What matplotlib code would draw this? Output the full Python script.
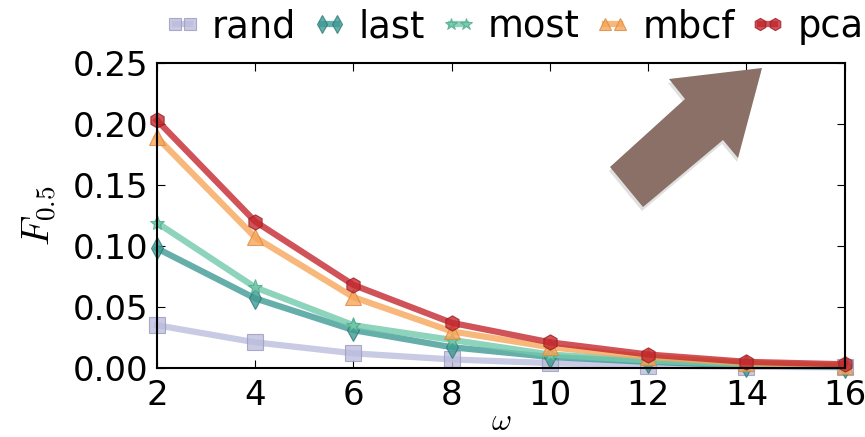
import matplotlib
matplotlib.use('Agg')
import matplotlib.pyplot as plt
from matplotlib.patches import Polygon

plt.rcParams['mathtext.fontset'] = 'cm'

omega = [2, 4, 6, 8, 10, 12, 14, 16]
rand = [0.035, 0.021, 0.012, 0.007, 0.004, 0.002, 0.001, 0.0005]
last = [0.098, 0.057, 0.031, 0.017, 0.009, 0.005, 0.002, 0.001]
most = [0.119, 0.066, 0.035, 0.023, 0.011, 0.006, 0.003, 0.0015]
mbcf = [0.189, 0.107, 0.058, 0.030, 0.017, 0.009, 0.004, 0.002]
pca = [0.203, 0.120, 0.068, 0.037, 0.021, 0.011, 0.005, 0.003]

names = ['rand', 'last', 'most', 'mbcf', 'pca']
series = [rand, last, most, mbcf, pca]
colors = ['#bcbddc', '#3f9a95', '#72c9aa', '#f8a65a', '#c3282e']
edges = ['#9a9bc0', '#2d7a76', '#4fa88a', '#d98a40', '#9a1c22']
markers = ['s', 'd', '*', '^', 'h']

fig = plt.figure(figsize=(8.65, 4.37), dpi=100)
ax = fig.add_axes([0.1815, 0.158, 0.795, 0.698])

for name, vals, c, ec, m in zip(names, series, colors, edges, markers):
    ax.plot(omega, vals, color=c, lw=4.5, alpha=0.8, marker=m, markersize=11,
            markeredgecolor=ec, markeredgewidth=0.8, markerfacecolor=c,
            label=name, clip_on=False)

ax.set_xlim(2, 16)
ax.set_ylim(0, 0.25)
ax.set_xticks(range(2, 17, 2))
ax.set_yticks([0.0, 0.05, 0.10, 0.15, 0.20, 0.25])
ax.set_yticklabels(['0.00', '0.05', '0.10', '0.15', '0.20', '0.25'])
ax.tick_params(direction='in', top=True, right=True, labelsize=24.5, length=6)
ax.tick_params(axis='x', pad=8)
ax.tick_params(axis='y', pad=6)
for s in ax.spines.values():
    s.set_linewidth(1.5)
ax.set_xlabel(r'$\omega$', fontsize=22, labelpad=-4)
ax.set_ylabel(r'$F_{0.5}$', fontsize=28, labelpad=10)

fig.legend(*ax.get_legend_handles_labels(), loc='lower right',
           bbox_to_anchor=(0.998, 0.897), ncol=5, frameon=False,
           numpoints=2, handlelength=1.0, handletextpad=0.3, columnspacing=0.4,
           fontsize=26.5, borderaxespad=0.0, borderpad=0.0, markerscale=0.8)

# big brown arrow pointing to the top right corner (figure pixel coords)
W, H = 865, 437
pts = [(762, 68), (669, 79), (685, 99), (610, 167), (643, 207), (723, 140), (738, 158)]
shadow = Polygon([((x - 1) / W, 1 - (y + 4) / H) for x, y in pts], closed=True,
                 transform=fig.transFigure, facecolor='#000000', alpha=0.12, lw=0)
arrow = Polygon([(x / W, 1 - y / H) for x, y in pts], closed=True,
                transform=fig.transFigure, facecolor='#8a7066', edgecolor='none')
fig.patches.extend([shadow, arrow])

fig.savefig('out.png', dpi=100)
